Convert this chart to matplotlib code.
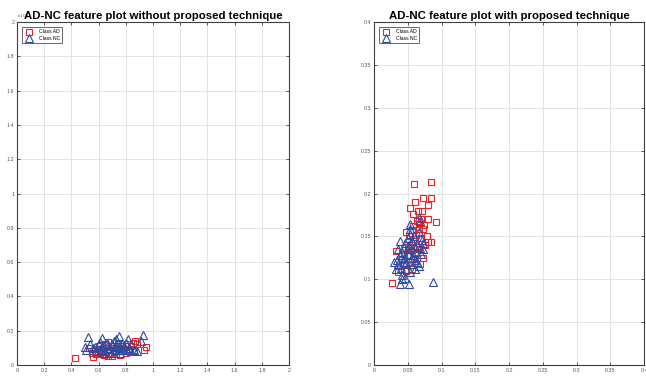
import matplotlib
matplotlib.use("Agg")
import matplotlib.pyplot as plt
import numpy as np

plt.rcParams['font.family'] = ['Liberation Sans', 'DejaVu Sans']

# Left panel (without proposed technique), y scaled by 1e4 label
left_ad_x = [0.426, 0.946, 0.936, 0.868, 0.556, 0.672, 0.757, 0.57, 0.59, 0.61, 0.63, 0.64, 0.66, 0.68, 0.69, 0.70,
             0.72, 0.73, 0.74, 0.76, 0.78, 0.80, 0.82, 0.84, 0.86, 0.88, 0.60, 0.65, 0.71, 0.77, 0.83, 0.62, 0.55,
             0.67, 0.79, 0.85, 0.58, 0.75, 0.81, 0.53]
left_ad_y = [0.039, 0.103, 0.087, 0.142, 0.049, 0.136, 0.058, 0.08, 0.095, 0.07, 0.10, 0.06, 0.085, 0.07, 0.11, 0.05,
             0.09, 0.065, 0.12, 0.08, 0.10, 0.07, 0.09, 0.11, 0.085, 0.12, 0.11, 0.12, 0.075, 0.11, 0.075, 0.09, 0.07,
             0.055, 0.085, 0.13, 0.065, 0.095, 0.12, 0.10]
left_nc_x = [0.929, 0.520, 0.623, 0.750, 0.818, 0.880, 0.500, 0.909, 0.51, 0.54, 0.56, 0.58, 0.60, 0.62, 0.64, 0.65,
             0.66, 0.68, 0.69, 0.70, 0.71, 0.72, 0.73, 0.74, 0.75, 0.76, 0.77, 0.78, 0.79, 0.80, 0.82, 0.84, 0.86,
             0.63, 0.67, 0.71, 0.73, 0.61, 0.57, 0.81]
left_nc_y = [0.175, 0.161, 0.156, 0.169, 0.150, 0.083, 0.107, 0.142, 0.09, 0.12, 0.10, 0.08, 0.12, 0.09, 0.11, 0.08,
             0.13, 0.10, 0.07, 0.12, 0.14, 0.09, 0.11, 0.13, 0.10, 0.07, 0.12, 0.09, 0.11, 0.13, 0.10, 0.12, 0.09,
             0.07, 0.115, 0.105, 0.15, 0.135, 0.105, 0.085]

# Right panel (with proposed technique)
right_ad_x = [0.026, 0.059, 0.084, 0.072, 0.084, 0.060, 0.080, 0.054, 0.065, 0.071, 0.058, 0.080, 0.092, 0.066,
              0.058, 0.072, 0.066, 0.048, 0.066, 0.084, 0.080, 0.058, 0.033, 0.067, 0.072, 0.045, 0.052, 0.062,
              0.055, 0.070, 0.063, 0.050, 0.041, 0.060, 0.075, 0.053, 0.068, 0.038, 0.057, 0.047, 0.064, 0.056,
              0.074, 0.061, 0.069, 0.044, 0.035, 0.050, 0.078, 0.063]
right_ad_y = [0.096, 0.211, 0.213, 0.195, 0.195, 0.190, 0.187, 0.183, 0.180, 0.180, 0.176, 0.170, 0.167, 0.165,
              0.162, 0.159, 0.159, 0.155, 0.154, 0.143, 0.143, 0.147, 0.133, 0.135, 0.125, 0.130, 0.150, 0.152,
              0.140, 0.148, 0.138, 0.128, 0.122, 0.130, 0.140, 0.120, 0.118, 0.115, 0.112, 0.110, 0.125, 0.158,
              0.163, 0.145, 0.170, 0.118, 0.108, 0.138, 0.150, 0.168]
right_nc_x = [0.067, 0.068, 0.054, 0.053, 0.054, 0.039, 0.046, 0.071, 0.073, 0.088, 0.039, 0.052, 0.041, 0.053,
              0.041, 0.046, 0.029, 0.034, 0.048, 0.066, 0.061, 0.035, 0.038, 0.042, 0.045, 0.050, 0.055, 0.058,
              0.060, 0.062, 0.064, 0.057, 0.050, 0.044, 0.036, 0.040, 0.047, 0.055, 0.063, 0.070, 0.068, 0.059,
              0.052, 0.043, 0.049, 0.056, 0.061, 0.033, 0.066, 0.072]
right_nc_y = [0.173, 0.168, 0.164, 0.159, 0.153, 0.145, 0.142, 0.146, 0.142, 0.097, 0.095, 0.094, 0.105, 0.108,
              0.100, 0.102, 0.120, 0.122, 0.119, 0.115, 0.123, 0.135, 0.128, 0.132, 0.125, 0.130, 0.135, 0.128,
              0.138, 0.132, 0.140, 0.145, 0.148, 0.138, 0.118, 0.113, 0.112, 0.118, 0.120, 0.130, 0.136, 0.150,
              0.140, 0.120, 0.135, 0.125, 0.112, 0.112, 0.155, 0.135]

titles = ["AD-NC feature plot without proposed technique", "AD-NC feature plot with proposed technique"]
labels = ["Class AD", "Class NC"]
left_ticks = [0, 0.2, 0.4, 0.6, 0.8, 1, 1.2, 1.4, 1.6, 1.8, 2]
right_ticks = [0, 0.05, 0.1, 0.15, 0.2, 0.25, 0.3, 0.35, 0.4]

RED = '#e8232a'
BLUE = '#2e4aa3'
AXC = '#404040'

fig = plt.figure(figsize=(6.46, 3.76), dpi=100)
ax1 = fig.add_axes([17/646, 1-365/376, 272/646, 343/376])
ax2 = fig.add_axes([374/646, 1-365/376, 270/646, 343/376])

panels = [
    (ax1, left_ad_x, left_ad_y, left_nc_x, left_nc_y, left_ticks, 2, titles[0]),
    (ax2, right_ad_x, right_ad_y, right_nc_x, right_nc_y, right_ticks, 0.4, titles[1]),
]
for ax, ax_x, ax_y, nx, ny, ticks, lim, title in panels:
    ax.plot(ax_x, ax_y, linestyle='none', marker='s', markersize=3.8, markerfacecolor='none',
            markeredgecolor=RED, markeredgewidth=0.8, label=labels[0])
    ax.plot(nx, ny, linestyle='none', marker='^', markersize=5.5, markerfacecolor='none',
            markeredgecolor=BLUE, markeredgewidth=0.8, label=labels[1])
    ax.set_xlim(0, lim)
    ax.set_ylim(0, lim)
    ax.set_xticks(ticks)
    ax.set_yticks(ticks)
    ax.set_xticklabels([f"{t:g}" for t in ticks])
    ax.set_yticklabels([f"{t:g}" for t in ticks])
    ax.grid(True, color='#e3e3e3', linewidth=0.7)
    ax.set_axisbelow(True)
    ax.tick_params(direction='in', length=2.5, width=0.6, labelsize=3.8, colors=AXC,
                   labelcolor='#555555', top=True, right=True, pad=2)
    for s in ax.spines.values():
        s.set_color(AXC)
        s.set_linewidth(0.8)
    ax.set_title(title, fontsize=8.2, fontweight='bold', pad=2)
    leg = ax.legend(loc='upper left', fontsize=3.6, frameon=True, fancybox=False,
                    edgecolor=AXC, handlelength=2.0, borderpad=0.45, labelspacing=0.25,
                    handletextpad=0.9, borderaxespad=1.0)
    leg.get_frame().set_linewidth(0.7)

ax1.text(-0.005, 1.003, r"$\times10^{4}$", transform=ax1.transAxes, fontsize=3.2, color='#555555',
         ha='left', va='bottom')

fig.savefig("out.png", dpi=100)
